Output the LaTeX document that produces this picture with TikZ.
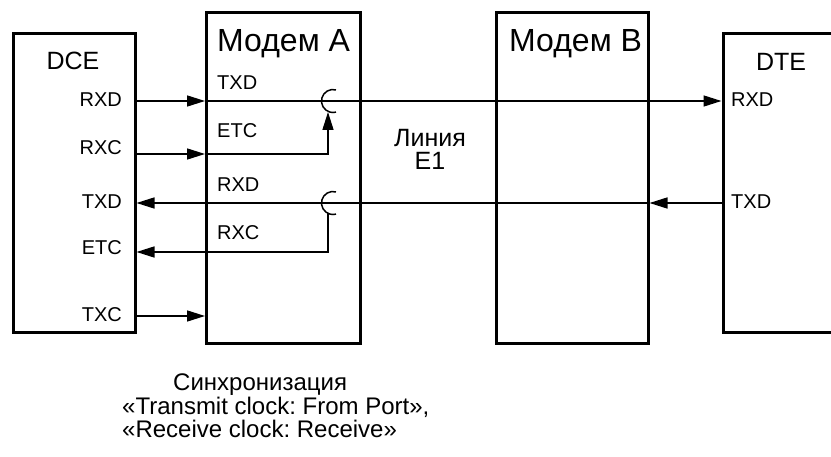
\documentclass[tikz,border=0pt]{standalone}
\usepackage{fontspec}
\setmainfont{Liberation Sans}
\usetikzlibrary{arrows.meta, positioning, calc}
\frenchspacing

\begin{document}
\begin{tikzpicture}[x=1pt, y=-1pt,
  blk/.style={draw, line width=3pt, inner sep=0pt, rectangle},
  wire/.style={line width=1.5pt},
  sig/.style={wire, -{Triangle[length=18pt, width=11pt]}},
  pin/.style={inner sep=0pt, font=\fontsize{20}{24}\selectfont},
  ttl/.style={inner sep=0pt, font=\fontsize{25}{30}\selectfont},
  mdm/.style={inner sep=0pt, font=\fontsize{32}{36}\selectfont},
  note/.style={inner sep=0pt, font=\fontsize{24}{24}\selectfont}]
  \useasboundingbox (0,0) rectangle (831,457);
  \clip (0,0) rectangle (831,457);

  \node[blk, minimum width=121.5pt, minimum height=298.5pt] (dce) at (74.25,183.25) {};
  \node[blk, minimum width=154pt, minimum height=331pt] (mA) at (283.5,178) {};
  \node[blk, minimum width=152pt, minimum height=331pt] (mB) at (572,178) {};
  \node[blk, minimum width=140pt, minimum height=298.5pt] (dte) at (793,183.25) {};

  \node[ttl, anchor=base] (dce-name) at (73,70) {DCE};
  \node[ttl, anchor=base] (dte-name) at (781,71) {DTE};
  \node[mdm, anchor=base west] (mA-name) at (217,51.5) {Модем A};
  \node[mdm, anchor=base west] (mB-name) at (509,51.5) {Модем B};
  \node[note, align=center, font=\fontsize{25}{23}\selectfont] (line) at (430,149) {Линия\\E1};

  \foreach \t/\y in {RXD/107, RXC/155, TXD/209, ETC/255, TXC/322}
    \node[pin, anchor=base east] (dce-\t) at (122,\y) {\t};
  \foreach \t/\y in {TXD/90, ETC/138, RXD/192, RXC/240}
    \node[pin, anchor=base west] (mA-\t) at (217,\y) {\t};
  \foreach \t/\y in {RXD/107, TXD/209}
    \node[pin, anchor=base west] (dte-\t) at (731,\y) {\t};

  \coordinate (yRXD) at (0,101);
  \coordinate (yETC) at (0,154);
  \coordinate (yTXD) at (0,203);
  \coordinate (yRXC) at (0,252);
  \coordinate (yTXC) at (0,316);
  \coordinate (hopA) at (333,101);
  \coordinate (hopB) at (333,203);
  \coordinate (hopAin) at (328,112);
  \coordinate (hopBin) at (328,213);

  \draw[sig] (dce.east |- yRXD) -- (mA.west |- yRXD);
  \draw[sig] (mA.west |- yRXD) -- (dte.west |- yRXD);
  \draw[sig] (dce.east |- yETC) -- (mA.west |- yETC);
  \draw[sig] (mA.west |- yETC) -| (hopAin);
  \draw[sig] (dte.west |- yTXD) -- (mB.east |- yTXD);
  \draw[sig] (mB.east |- yTXD) -- (dce.east |- yTXD);
  \draw[sig] (hopBin) |- (dce.east |- yRXC);
  \draw[sig] (dce.east |- yTXC) -- (mA.west |- yTXC);

  \draw[wire] (hopA) ++(2.98,-11.1) arc[start angle=75, end angle=285, radius=11.5pt];
  \draw[wire] (hopB) ++(2.98,-11.1) arc[start angle=75, end angle=285, radius=11.5pt];

  \node[note, anchor=base west] (cap1) at (173,390.5) {Синхронизация};
  \node[note, anchor=base west] (cap2) at (122,414) {«Transmit clock: From Port»,};
  \node[note, anchor=base west] (cap3) at (122,437.5) {«Receive clock: Receive»};
\end{tikzpicture}
\end{document}
